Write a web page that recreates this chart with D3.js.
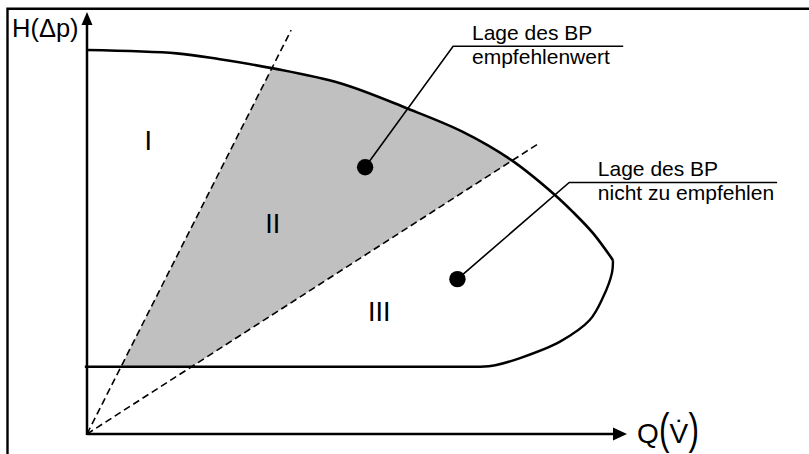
<!DOCTYPE html>
<html>
<head>
<meta charset="utf-8">
<script src="https://cdn.jsdelivr.net/npm/d3@7"></script>
<style>
body { margin: 0; background: #fff; }
svg { display: block; font-family: "Liberation Sans", Arial, sans-serif; }
</style>
</head>
<body>
<svg id="chart" width="809" height="454"></svg>
<script>
// diagram units: Q 0..10 along x, H 0..10 along y
// upper limit curve
const upperQ = [0, 1.66, 2.46, 3.42, 4.69, 5.92, 6.96, 7.86, 8.67, 9.0, 9.37, 9.74]
const upperH = [9.10, 9.02, 8.88, 8.67, 8.31, 7.72, 7.16, 6.49, 5.66, 5.26, 4.76, 4.12]
// lower limit: flat line up to 7.28, then bending up to the tip
const flatQ = [-0.04, 7.28]
const flatH = 1.595
const bendQ = [7.28, 7.56, 8.02, 8.76, 9.31, 9.56, 9.72, 9.74]
const bendH = [1.595, 1.63, 1.80, 2.19, 2.70, 3.25, 3.81, 4.12]
// dashed rays from the origin (end points)
const rayQ = [3.78, 8.34]
const rayH = [9.57, 6.865]
// region numbers
const regionNames = ['I', 'II', 'III']
const regionQ = [1.135, 3.44, 5.41]
const regionH = [6.73, 4.76, 2.68]
// operating points + leaders
const pointQ = [5.15, 6.86]
const pointH = [6.32, 3.67]
const elbowQ = [6.78, 8.93]
const elbowH = [9.19, 5.96]
const leaderEndQ = [9.93, 12.78]
const labelTop = ['Lage des BP', 'Lage des BP']
const labelBottom = ['empfehlenwert', 'nicht zu empfehlen']
const labelQ = [7.13, 9.46]

let svg = d3.select('#chart')
let xScale = d3.scaleLinear().domain([0, 10]).range([87, 627])
let yScale = d3.scaleLinear().domain([0, 10]).range([434, 12])

let upper = upperQ.map((q, i) => ({q: q, h: upperH[i]}))
let bend = bendQ.map((q, i) => ({q: q, h: bendH[i]}))

let line = d3.line().x(d => xScale(d.q)).y(d => yScale(d.h)).curve(d3.curveCatmullRom.alpha(0.5))
let straight = d3.line().x(d => xScale(d.q)).y(d => yScale(d.h))

// frame
svg.append('path').attr('d', 'M7.5,454 V8.7 H809').attr('fill', 'none').attr('stroke', '#000').attr('stroke-width', 2.4)

// gray wedge between rays, below upper curve, above lower line
let slope0 = rayH[0] / rayQ[0], slope1 = rayH[1] / rayQ[1]
let wedge = [
    {q: flatH / slope0, h: flatH},
    {q: 10 / slope0, h: 10},
    {q: 12, h: 10},
    {q: 12, h: 12 * slope1},
    {q: flatH / slope1, h: flatH}
]
svg.append('clipPath').attr('id', 'wedge').append('path').attr('d', straight(wedge) + 'Z')
let lastQ = upperQ[upperQ.length - 1]
svg.append('path').attr('d', line(upper) + 'L' + xScale(lastQ) + ',' + yScale(flatH) + 'L' + xScale(0) + ',' + yScale(flatH) + 'Z')
    .attr('fill', '#c0c0c0').attr('clip-path', 'url(#wedge)')

// dashed rays
svg.selectAll('.ray').data(rayQ).join('path').attr('class', 'ray')
    .attr('d', (d, i) => straight([{q: 0, h: 0}, {q: d, h: rayH[i]}]))
    .attr('fill', 'none').attr('stroke', '#000').attr('stroke-width', 1.6).attr('stroke-dasharray', '7,4')

// limit curves
svg.append('path').attr('d', line(upper)).attr('fill', 'none').attr('stroke', '#000').attr('stroke-width', 2.6)
svg.append('path').attr('d', straight(flatQ.map(q => ({q: q, h: flatH}))) + line(bend).replace(/^M[^C]*/, 'L' + xScale(bendQ[0]) + ',' + yScale(bendH[0])))
    .attr('fill', 'none').attr('stroke', '#000').attr('stroke-width', 2.4)

// axes with arrow heads
svg.append('line').attr('x1', xScale(0)).attr('x2', xScale(10) - 12).attr('y1', yScale(0)).attr('y2', yScale(0))
    .attr('stroke', '#000').attr('stroke-width', 2.5)
svg.append('line').attr('x1', xScale(0)).attr('x2', xScale(0)).attr('y1', yScale(0) + 1).attr('y2', yScale(10) + 12)
    .attr('stroke', '#000').attr('stroke-width', 2.5)
svg.append('path')
    .attr('d', `M${xScale(10)},${yScale(0)} l-14,-6.5 v13 Z`).attr('fill', '#000')
svg.append('path')
    .attr('d', `M${xScale(0)},${yScale(10)} l-5.5,13 h11 Z`).attr('fill', '#000')

svg.append('text').text('H(Δp)').attr('x', 12).attr('y', 37).attr('font-size', 25.5)
let ql = svg.append('g').attr('font-size', 28)
ql.append('text').text('Q').attr('x', 637).attr('y', 443)
ql.append('text').text('(').attr('transform', 'translate(659,443.5) scale(0.7,1)').attr('font-size', 45)
ql.append('text').text('V\u0307').attr('x', 669.5).attr('y', 443)
ql.append('text').text(')').attr('transform', 'translate(688.5,443.5) scale(0.7,1)').attr('font-size', 45)

// region numbers
svg.selectAll('.region').data(regionNames).join('text').attr('class', 'region')
    .text(d => d).attr('x', (d, i) => xScale(regionQ[i])).attr('y', (d, i) => yScale(regionH[i]))
    .attr('text-anchor', 'middle').attr('font-size', 27)

// leaders
svg.selectAll('.leader').data(pointQ).join('path').attr('class', 'leader')
    .attr('d', (d, i) => straight([{q: d, h: pointH[i]}, {q: elbowQ[i], h: elbowH[i]}, {q: leaderEndQ[i], h: elbowH[i]}]))
    .attr('fill', 'none').attr('stroke', '#000').attr('stroke-width', 1.6)
svg.selectAll('.pt').data(pointQ).join('circle').attr('class', 'pt')
    .attr('cx', d => xScale(d)).attr('cy', (d, i) => yScale(pointH[i])).attr('r', 8.2).attr('fill', '#000')

svg.selectAll('.lt').data(labelTop).join('text').attr('class', 'lt')
    .text(d => d).attr('x', (d, i) => xScale(labelQ[i])).attr('y', (d, i) => yScale(elbowH[i]) - 6.5).attr('font-size', 21)
svg.selectAll('.lb').data(labelBottom).join('text').attr('class', 'lb')
    .text(d => d).attr('x', (d, i) => xScale(labelQ[i])).attr('y', (d, i) => yScale(elbowH[i]) + 18).attr('font-size', 21)
</script>
</body>
</html>
